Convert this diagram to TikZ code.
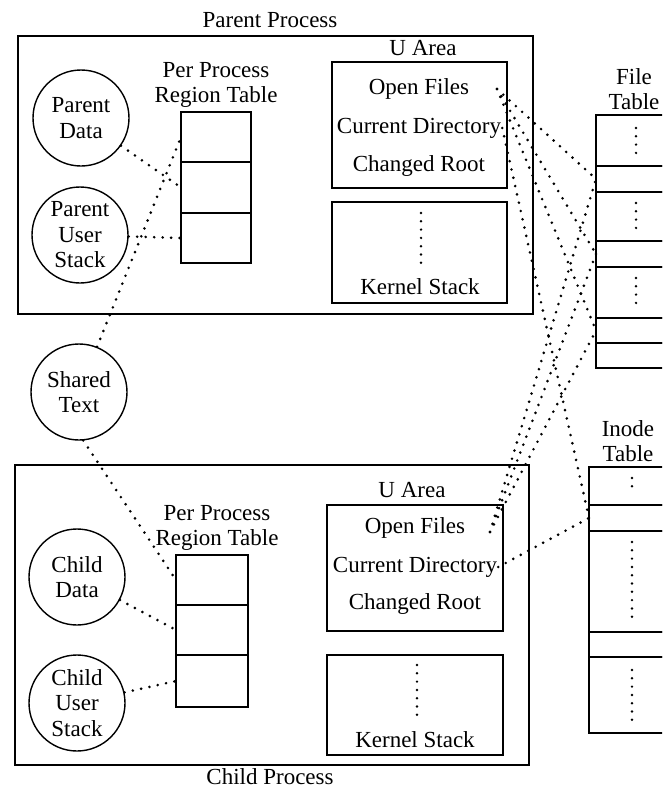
\documentclass[tikz,border=0pt]{standalone}
\usepackage{fontspec}
\setmainfont{Liberation Serif}
\begin{document}
\begin{tikzpicture}[x=1pt,y=-1pt,
  every node/.style={font=\fontsize{23}{25.5}\selectfont},
  box/.style={draw, line width=1.5pt, anchor=north west, inner sep=0pt, outer sep=0pt},
  lbl/.style={align=center, inner sep=1pt},
  ttl/.style={inner sep=0pt},
  proc/.style={draw, circle, line width=1.4pt, minimum size=96pt, inner sep=0pt, align=center},
  conn/.style={line width=2.9pt, line cap=round, dash pattern=on 0pt off 8.5pt},
  vdots/.style={line width=2.7pt, line cap=round, dash pattern=on 0pt off 8.3pt}]
\clip (0,0) rectangle (662,790);
% ---------- Parent process ----------
\node[ttl] (ptitle) at (270,20) {Parent Process};
\node[box, minimum width=515pt, minimum height=278pt] (pproc) at (18,36) {};
\node[proc] (pdata) at (81,118) {Parent\\Data};
\node[proc] (pstack) at (80,235) {Parent\\User\\Stack};
\node[lbl] (prtl) at (216,85) {Per Process\\Region Table};
\node[box, minimum width=70pt, minimum height=50pt] (prt1) at (181,112) {};
\node[box, minimum width=70pt, minimum height=51pt] (prt2) at (181,162) {};
\node[box, minimum width=70pt, minimum height=50pt] (prt3) at (181,213) {};
\node[lbl] (pual) at (423,48) {U Area};
\node[box, minimum width=175pt, minimum height=126pt] (pua) at (332,62) {};
\node[lbl] (pof) at (419,89) {Open Files};
\node[lbl] (pcd) at (419,128) {Current Directory};
\node[lbl] (pcr) at (419,166) {Changed Root};
\node[box, minimum width=175pt, minimum height=101pt] (pks) at (332,202) {};
\node[lbl] (pksl) at (420,287) {Kernel Stack};
\draw[vdots] (421,213) -- (421,265);
% ---------- File table ----------
\node[lbl] (ftl) at (634,89) {File\\Table};
\node[box, minimum width=90pt, minimum height=51pt] (ft1) at (596,115) {};
\node[box, minimum width=90pt, minimum height=26pt] (ft2) at (596,166) {};
\node[box, minimum width=90pt, minimum height=49pt] (ft3) at (596,192) {};
\node[box, minimum width=90pt, minimum height=26pt] (ft4) at (596,241) {};
\node[box, minimum width=90pt, minimum height=51pt] (ft5) at (596,267) {};
\node[box, minimum width=90pt, minimum height=25pt] (ft6) at (596,318) {};
\node[box, minimum width=90pt, minimum height=25pt] (ft7) at (596,343) {};
\draw[vdots] (636,128) -- (636,153);
\draw[vdots] (636,203) -- (636,229);
\draw[vdots] (636,278) -- (636,305);
% ---------- Shared text ----------
\node[proc] (stext) at (79,392) {Shared\\Text};
% ---------- Child process ----------
\node[box, minimum width=514pt, minimum height=300pt] (cproc) at (15,465) {};
\node[ttl] (ctitle) at (270,777) {Child Process};
\node[proc] (cdata) at (77,577) {Child\\Data};
\node[proc] (cstack) at (77,703) {Child\\User\\Stack};
\node[lbl] (crtl) at (217,528) {Per Process\\Region Table};
\node[box, minimum width=72pt, minimum height=50pt] (crt1) at (176,555) {};
\node[box, minimum width=72pt, minimum height=50pt] (crt2) at (176,605) {};
\node[box, minimum width=72pt, minimum height=52pt] (crt3) at (176,655) {};
\node[lbl] (cual) at (412,490) {U Area};
\node[box, minimum width=176pt, minimum height=126pt] (cua) at (327,505) {};
\node[lbl] (cof) at (415,528) {Open Files};
\node[lbl] (ccd) at (415,567) {Current Directory};
\node[lbl] (ccr) at (415,604) {Changed Root};
\node[box, minimum width=176pt, minimum height=100pt] (cks) at (327,655) {};
\node[lbl] (cksl) at (415,740) {Kernel Stack};
\draw[vdots] (417,665) -- (417,718);
% ---------- Inode table ----------
\node[lbl] (itl) at (628,441) {Inode\\Table};
\node[box, minimum width=90pt, minimum height=38pt] (it1) at (589,467) {};
\node[box, minimum width=90pt, minimum height=26pt] (it2) at (589,505) {};
\node[box, minimum width=90pt, minimum height=101pt] (it3) at (589,531) {};
\node[box, minimum width=90pt, minimum height=25pt] (it4) at (589,632) {};
\node[box, minimum width=90pt, minimum height=76pt] (it5) at (589,657) {};
\draw[vdots] (632,478) -- (632,493);
\draw[vdots] (632,542) -- (632,620);
\draw[vdots] (632,670) -- (632,723);
% ---------- Connectors ----------
\coordinate (pofc) at (497,89);
\coordinate (cofc) at (490,532);
\draw[conn] (pdata) -- (prt2.west);
\draw[conn] (pstack) -- (prt3.west);
\draw[conn] (stext) -- (prt1.west);
\draw[conn] (stext.275) -- (crt1.west);
\draw[conn] (cdata) -- (crt2.west);
\draw[conn] (cstack) -- (crt3.west);
\draw[conn] (pofc) -- (ft2.west);
\draw[conn] (pofc) -- (ft4.west);
\draw[conn] (pofc) -- (ft6.west);
\draw[conn] (pcd.east) -- (it2.west);
\draw[conn] (cofc) -- (ft2.west);
\draw[conn] (cofc) -- (ft4.west);
\draw[conn] (cofc) -- (ft6.west);
\draw[conn] (ccd.east) -- (it2.west);
\end{tikzpicture}
\end{document}
